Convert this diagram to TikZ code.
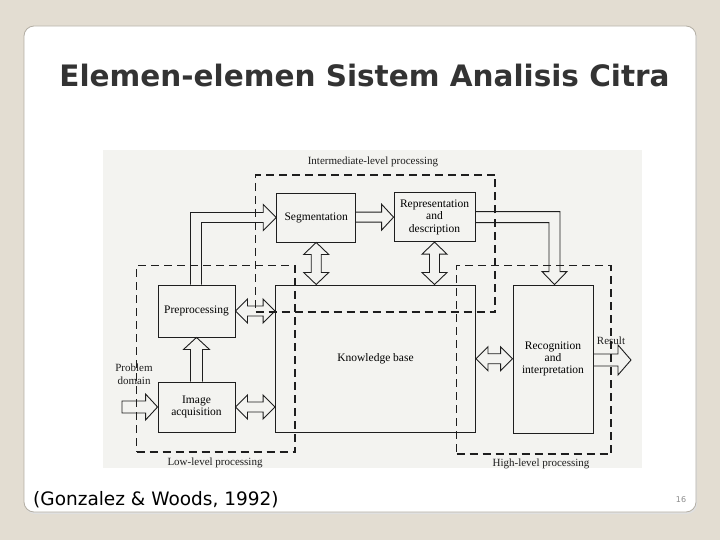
\documentclass[tikz,border=0pt]{standalone}
\usepackage{fontspec}
\setmainfont{Liberation Serif}
\newfontfamily\slidefont{DejaVu Sans}
\usetikzlibrary{calc}
\definecolor{pagebg}{HTML}{E3DDD2}
\definecolor{cardline}{HTML}{B3AEA4}
\definecolor{scanbg}{HTML}{F3F3F0}
\definecolor{ink}{HTML}{1E1E1E}
\definecolor{titleink}{HTML}{333333}
\newcommand\hdarr[2]{\draw[blk] let \p1=(#1), \p2=(#2) in
  (\x1,\y1) -- (\x1+12pt,\y1+12pt) -- (\x1+12pt,\y1+5pt) -- (\x2-12pt,\y1+5pt) -- (\x2-12pt,\y1+12pt) -- (\x2,\y1)
  -- (\x2-12pt,\y1-12pt) -- (\x2-12pt,\y1-5pt) -- (\x1+12pt,\y1-5pt) -- (\x1+12pt,\y1-12pt) -- cycle;}
\newcommand\vdarr[2]{\draw[blk] let \p1=(#1), \p2=(#2) in
  (\x1,\y1) -- (\x1+12.5pt,\y1-12pt) -- (\x1+5pt,\y1-12pt) -- (\x1+5pt,\y2+12pt) -- (\x1+12.5pt,\y2+12pt) -- (\x1,\y2)
  -- (\x1-12.5pt,\y2+12pt) -- (\x1-5pt,\y2+12pt) -- (\x1-5pt,\y1-12pt) -- (\x1-12.5pt,\y1-12pt) -- cycle;}
% horizontal single arrow: tail, tip, shaft half, head half, head length, closing
\newcommand\hsarr[6]{\draw[blk] let \p1=(#1), \p2=(#2) in
  (\x1,\y2+#3) -- (\x2-#5,\y2+#3) -- (\x2-#5,\y2+#4) -- (\x2,\y2) -- (\x2-#5,\y2-#4) -- (\x2-#5,\y2-#3) -- (\x1,\y2-#3) #6;}
\begin{document}
\begin{tikzpicture}[x=1pt,y=-1pt,
  box/.style={draw=ink, line width=0.9pt, inner sep=0pt, align=center,
    font=\fontsize{11.5}{12.3}\selectfont},
  region/.style={draw=ink, line width=1.1pt, dash pattern=on 8pt off 5pt, inner sep=0pt},
  lbl/.style={font=\fontsize{11}{12.5}\selectfont, text=ink, inner sep=0pt, align=center},
  blk/.style={draw=ink, line width=0.9pt, line join=miter}]
\useasboundingbox (0,0) rectangle (720,540);
\fill[pagebg] (0,0) rectangle (720,540);
\fill[black!12, rounded corners=10pt] (25,28) rectangle (697,514);
\draw[cardline, fill=white, line width=0.8pt, rounded corners=10pt] (24,26) rectangle (696,512);
\node[font=\slidefont\bfseries\fontsize{29.5}{32}\selectfont, text=titleink, anchor=base, inner sep=0pt] (title) at (364.5,87) {Elemen-elemen Sistem Analisis Citra};
\fill[scanbg] (103,150) rectangle (642,468);

% processing regions
\node[region, minimum width=239.5pt, minimum height=137pt] (mid) at (375.25,243.5) {};
\node[region, minimum width=158.5pt, minimum height=186.3pt] (low) at (215.75,358.85) {};
\node[region, minimum width=154.5pt, minimum height=188.5pt] (high) at (533.75,359.75) {};

% boxes
\node[box, minimum width=79pt, minimum height=49pt] (seg) at (316.2,217.5) {Segmentation};
\node[box, minimum width=81pt, minimum height=49pt] (rep) at (434.5,217.2) {Representation\\and\\description};
\node[box, minimum width=77pt, minimum height=52pt] (pre) at (196.5,311) {Preprocessing};
\node[box, minimum width=77pt, minimum height=50pt] (acq) at (196.5,407) {Image\\acquisition};
\node[box, minimum width=200pt, minimum height=147.5pt] (kb) at (375.5,358.7) {Knowledge base};
\node[box, minimum width=80pt, minimum height=148pt] (rec) at (553,359) {Recognition\\and\\interpretation};

% labels
\node[lbl] (lmid) at (373,161.5) {Intermediate-level processing};
\node[lbl] (llow) at (215,462.5) {Low-level processing};
\node[lbl] (lhigh) at (541,463.5) {High-level processing};
\node[lbl] (lpd) at (134,374) {Problem\\domain};
\node[lbl] (lres) at (611,341) {Result};

\coordinate (pd) at (122,407);
\coordinate (res) at (631,360);

% arrows
\draw[blk] let \p1=(pre.north), \p2=(seg.west) in
  (\x1-6pt,\y1) -- (\x1-6pt,\y2+5pt) -- (\x2-13pt,\y2+5pt) -- (\x2-13pt,\y2+13pt) -- (\x2,\y2)
  -- (\x2-13pt,\y2-13pt) -- (\x2-13pt,\y2-5pt) -- (\x1+5pt,\y2-5pt) -- (\x1+5pt,\y1);
\hsarr{seg.east}{rep.west}{5pt}{13pt}{12pt}{}
\draw[blk] let \p1=(rep.east), \p2=(rec.north) in
  (\x1,\y1+5.5pt) -- (\x2+7pt,\y1+5.5pt) -- (\x2+7pt,\y2+13pt) -- (\x2+14pt,\y2+13pt) -- (\x2+1.5pt,\y2)
  -- (\x2-11pt,\y2+13pt) -- (\x2-4pt,\y2+13pt) -- (\x2-4pt,\y1-5.5pt) -- (\x1,\y1-5.5pt);
\vdarr{seg.south}{seg.south |- kb.north}
\vdarr{rep.south}{rep.south |- kb.north}
\hdarr{pre.east}{pre.east -| kb.west}
\hdarr{acq.east}{acq.east -| kb.west}
\hdarr{kb.east}{rec.west}
\draw[blk] let \p1=(acq.north), \p2=(pre.south) in
  (\x1-6pt,\y1) -- (\x1-6pt,\y2-12pt) -- (\x1-13pt,\y2-12pt) -- (\x1,\y2) -- (\x1+13pt,\y2-12pt)
  -- (\x1+6pt,\y2-12pt) -- (\x1+6pt,\y1);
\hsarr{pd}{acq.west}{6pt}{13pt}{12pt}{-- cycle}
\hsarr{rec.east}{res}{6pt}{15pt}{13pt}{}

% caption and page number
\node[font=\slidefont\fontsize{18.5}{22}\selectfont, text=black, anchor=base west, inner sep=0pt] (cap) at (33,505) {(Gonzalez \& Woods, 1992)};
\node[font=\slidefont\fontsize{8}{10}\selectfont, text=black!45, inner sep=0pt] (pg) at (681,500) {16};
\end{tikzpicture}
\end{document}
